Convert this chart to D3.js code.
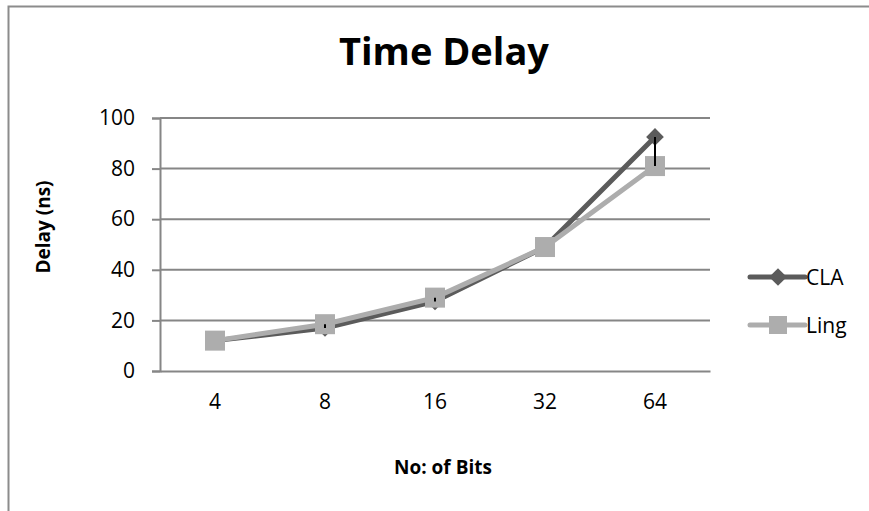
<!DOCTYPE html>
<html lang="en">
<head>
<meta charset="UTF-8" />
<title>Time Delay</title>
<style>
  body { margin: 0; background: #fff; }
  svg text { font-family: 'Open Sans', 'Noto Sans', sans-serif; fill: #000; }
</style>
<script src="https://d3js.org/d3.v7.min.js"></script>
</head>
<body>
<div id="chart"></div>
<script>
  // data
  const bits = ['4', '8', '16', '32', '64'];
  const claDelay = [12, 17, 27.5, 49, 92.5];
  const lingDelay = [12, 18.5, 29, 49, 81];
  const yTicks = [0, 20, 40, 60, 80, 100];

  const width = 869, height = 511;
  const plot = { left: 160, right: 710, top: 118, bottom: 371 };

  const svg = d3.select('#chart').append('svg')
    .attr('width', width).attr('height', height);

  // outer chart frame (cut off on the right and bottom)
  svg.append('rect')
    .attr('x', 8.5).attr('y', 6.5)
    .attr('width', 900).attr('height', 600)
    .attr('fill', 'none').attr('stroke', '#8c8c8c').attr('stroke-width', 2);

  const x = d3.scaleBand().domain(bits).range([plot.left, plot.right]);
  const y = d3.scaleLinear().domain([0, 100]).range([plot.bottom, plot.top]);

  // gridlines + y axis
  const yAxis = d3.axisLeft(y).tickValues(yTicks).tickSize(8).tickPadding(17);
  const gy = svg.append('g').attr('transform', `translate(${plot.left},0)`).call(yAxis);
  gy.select('.domain').attr('stroke', '#868686').attr('stroke-width', 2);
  gy.selectAll('.tick line').attr('stroke', '#868686').attr('stroke-width', 2);
  gy.selectAll('.tick text').style('font-size', '21px');

  svg.append('g').selectAll('line')
    .data(yTicks.filter(d => d > 0))
    .join('line')
    .attr('x1', plot.left).attr('x2', plot.right)
    .attr('y1', d => y(d)).attr('y2', d => y(d))
    .attr('stroke', '#868686').attr('stroke-width', 2);

  // x axis
  const xAxis = d3.axisBottom(x).tickSize(0).tickPadding(23);
  const gx = svg.append('g').attr('transform', `translate(0,${plot.bottom})`).call(xAxis);
  gx.select('.domain').attr('stroke', '#868686').attr('stroke-width', 2);
  gx.selectAll('.tick text').style('font-size', '21px');

  const cx = d => x(d) + x.bandwidth() / 2;

  const line = d3.line().x(d => cx(d.b)).y(d => y(d.v));
  const claPts = bits.map((b, i) => ({ b, v: claDelay[i] }));
  const lingPts = bits.map((b, i) => ({ b, v: lingDelay[i] }));

  const claColor = '#5b5b5b', lingColor = '#adadad';

  svg.append('path').datum(claPts)
    .attr('d', line).attr('fill', 'none')
    .attr('stroke', claColor).attr('stroke-width', 5);
  svg.append('g').selectAll('path')
    .data(claPts)
    .join('path')
    .attr('d', d3.symbol(d3.symbolDiamond2, 200))
    .attr('transform', d => `translate(${cx(d.b)},${y(d.v)})`)
    .attr('fill', claColor);

  svg.append('path').datum(lingPts)
    .attr('d', line).attr('fill', 'none')
    .attr('stroke', lingColor).attr('stroke-width', 5);
  svg.append('g').selectAll('rect')
    .data(lingPts)
    .join('rect')
    .attr('x', d => cx(d.b) - 10).attr('y', d => y(d.v) - 10)
    .attr('width', 20).attr('height', 20)
    .attr('fill', lingColor);

  // high-low lines between the two series, on top of the markers
  svg.append('g').selectAll('line')
    .data(bits)
    .join('line')
    .attr('x1', cx).attr('x2', cx)
    .attr('y1', (d, i) => y(claDelay[i])).attr('y2', (d, i) => y(lingDelay[i]))
    .attr('stroke', '#000').attr('stroke-width', 2);

  // legend
  const legend = [
    { name: 'CLA', color: claColor, shape: 'diamond', y: 277 },
    { name: 'Ling', color: lingColor, shape: 'square', y: 325 }
  ];
  const lg = svg.append('g').selectAll('g').data(legend).join('g')
    .attr('transform', d => `translate(750,${d.y})`);
  lg.append('line').attr('x1', 0).attr('x2', 55)
    .attr('stroke', d => d.color).attr('stroke-width', 5).attr('stroke-linecap', 'round');
  lg.filter(d => d.shape === 'diamond').append('path')
    .attr('d', d3.symbol(d3.symbolDiamond2, 200))
    .attr('transform', 'translate(28,0)').attr('fill', d => d.color);
  lg.filter(d => d.shape === 'square').append('rect')
    .attr('x', 19).attr('y', -9).attr('width', 18).attr('height', 18)
    .attr('fill', d => d.color);
  lg.append('text').attr('x', 56).attr('dy', '0.36em')
    .style('font-size', '21px').text(d => d.name);

  // titles
  svg.append('text').attr('x', 444).attr('y', 65)
    .attr('text-anchor', 'middle')
    .style('font-size', '38px').style('font-weight', 'bold')
    .text('Time Delay');

  svg.append('text').attr('x', 443).attr('y', 474)
    .attr('text-anchor', 'middle')
    .style('font-size', '19px').style('font-weight', 'bold')
    .text('No: of Bits');

  svg.append('text')
    .attr('transform', 'translate(50,227) rotate(-90)')
    .attr('text-anchor', 'middle')
    .style('font-size', '19px').style('font-weight', 'bold')
    .text('Delay (ns)');
</script>
</body>
</html>
